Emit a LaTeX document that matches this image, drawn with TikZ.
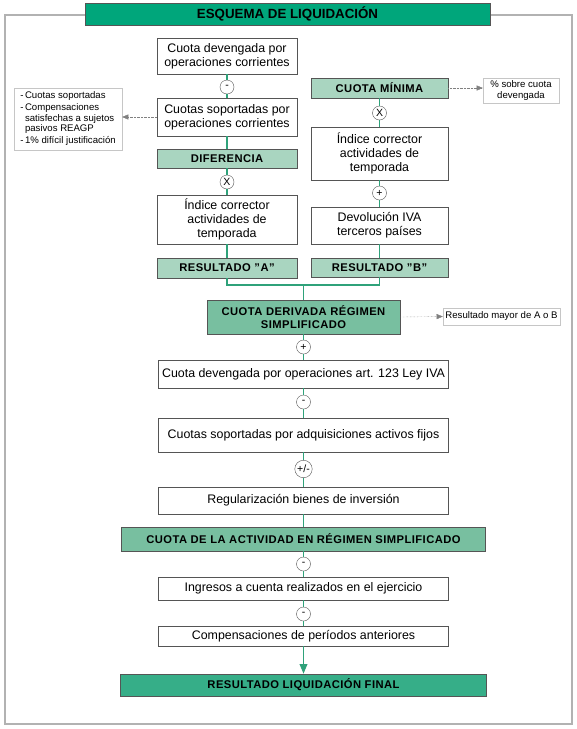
\documentclass[tikz,border=0pt]{standalone}
\usepackage{fontspec}
\setmainfont{Liberation Sans}
\usetikzlibrary{arrows}
\definecolor{verdeosc}{HTML}{00A67B}
\definecolor{verdeclaro}{HTML}{A9D5C0}
\definecolor{verdemed}{HTML}{78BFA0}
\definecolor{verdefin}{HTML}{36AE88}
\definecolor{linea}{HTML}{2FA27A}
\definecolor{borde}{HTML}{555555}
\tikzstyle{caja} = [rectangle, draw=borde, fill=white, line width=0.8pt, align=center, inner sep=1pt, font=\fontsize{12.4}{14}\selectfont]
\tikzstyle{etiqueta} = [rectangle, draw=borde, line width=0.8pt, align=center, inner sep=1pt, font=\bfseries\fontsize{11.2}{12.5}\selectfont\addfontfeatures{LetterSpace=4}]
\tikzstyle{signo} = [circle, draw=borde, fill=white, inner sep=0.5pt, minimum size=14pt, font=\fontsize{10.5}{10.5}\selectfont]
\tikzstyle{nota} = [rectangle, draw=gray!45, fill=white, inner sep=2pt, font=\fontsize{9.6}{10.2}\selectfont]
\tikzstyle{link} = [draw=linea, line width=1.2pt]
\tikzstyle{arrow} = [link, -triangle 45]
\tikzstyle{puntos} = [draw=gray, densely dotted, -triangle 45]

\begin{document}
\begin{tikzpicture}[x=1pt, y=-1pt]
\useasboundingbox (0,0) rectangle (577,729);
\draw [gray!60, line width=1.2pt] (5,15) rectangle (572,724);
\node (titulo) [etiqueta, fill=verdeosc, minimum width=405pt, minimum height=22pt, font=\bfseries\fontsize{13.3}{15}\selectfont] at (287.5,14) {ESQUEMA DE LIQUIDACIÓN};

\node (cdev) [caja, minimum width=140pt, minimum height=36pt] at (227,56) {Cuota devengada por\\operaciones corrientes};
\node (op1) [signo] at (227,87) {-};
\node (csop) [caja, minimum width=140pt, minimum height=38pt] at (227,117) {Cuotas soportadas por\\operaciones corrientes};
\node (dif) [etiqueta, fill=verdeclaro, minimum width=140pt, minimum height=19pt] at (227,158.5) {DIFERENCIA};
\node (op2) [signo] at (227,182) {X};
\node (icA) [caja, minimum width=140pt, minimum height=49pt] at (227,219.5) {Índice corrector\\actividades de\\temporada};
\node (resA) [etiqueta, fill=verdeclaro, minimum width=140pt, minimum height=20pt] at (227,268) {RESULTADO "A"};

\node (cmin) [etiqueta, fill=verdeclaro, minimum width=137pt, minimum height=20pt] at (379.5,88) {CUOTA MÍNIMA};
\node (op3) [signo] at (379.5,113) {X};
\node (icB) [caja, minimum width=137pt, minimum height=53pt] at (379.5,153.5) {Índice corrector\\actividades de\\temporada};
\node (op4) [signo] at (379.5,193) {+};
\node (dev) [caja, minimum width=137pt, minimum height=37pt] at (379.5,225.5) {Devolución IVA\\terceros países};
\node (resB) [etiqueta, fill=verdeclaro, minimum width=137pt, minimum height=19pt] at (379.5,267.5) {RESULTADO "B"};

\node (cuotas) [nota, minimum width=108pt, minimum height=62pt] at (68,119) {\begin{tabular}{@{}l@{\,}l@{}}- & Cuotas soportadas\\[2pt] - & Compensaciones\\ & satisfechas a sujetos\\ & pasivos REAGP\\[2pt] - & 1\% difícil justificación\end{tabular}};
\node (porc) [nota, align=center, minimum width=76pt, minimum height=25pt] at (521,90.5) {\% sobre cuota\\devengada};

\coordinate (junc) at (303.5,285);
\node (cder) [etiqueta, fill=verdemed, minimum width=193pt, minimum height=34pt] at (303.5,317) {CUOTA DERIVADA RÉGIMEN\\SIMPLIFICADO};
\node (mayor) [nota, minimum width=117pt, minimum height=17pt] at (501.5,316.5) {Resultado mayor de A o B};
\node (op5) [signo] at (303.5,347) {+};
\node (art) [caja, minimum width=290pt, minimum height=28pt] at (303.5,374) {Cuota devengada por operaciones art. 123 Ley IVA};
\node (op6) [signo] at (303.5,402) {-};
\node (act) [caja, minimum width=290pt, minimum height=34pt] at (303.5,435) {Cuotas soportadas por adquisiciones activos fijos};
\node (op7) [signo, inner sep=1pt] at (303.5,469) {+/-};
\node (reg) [caja, minimum width=290pt, minimum height=27pt] at (303.5,500.5) {Regularización bienes de inversión};
\node (cact) [etiqueta, fill=verdemed, minimum width=364pt, minimum height=24pt] at (303.5,539) {CUOTA DE LA ACTIVIDAD EN RÉGIMEN SIMPLIFICADO};
\node (op8) [signo] at (303.5,564) {-};
\node (ing) [caja, minimum width=290pt, minimum height=23pt] at (303.5,588.5) {Ingresos a cuenta realizados en el ejercicio};
\node (op9) [signo] at (303.5,614) {-};
\node (comp) [caja, minimum width=290pt, minimum height=20pt] at (303.5,636) {Compensaciones de períodos anteriores};
\node (fin) [etiqueta, fill=verdefin, minimum width=366pt, minimum height=22pt] at (303.5,685) {RESULTADO LIQUIDACIÓN FINAL};

\draw [link] (cdev) -- (op1) -- (csop) -- (dif) -- (op2) -- (icA) -- (resA);
\draw [link] (cmin) -- (op3) -- (icB) -- (op4) -- (dev) -- (resB);
\draw [link] (resA.south) |- (junc) -| (resB.south);
\draw [link] (junc) -- (cder) -- (op5) -- (art) -- (op6) -- (act) -- (op7) -- (reg) -- (cact) -- (op8) -- (ing) -- (op9) -- (comp);
\draw [arrow] (comp) -- (fin);

\draw [puntos] (csop.west) -- (cuotas.east |- csop.west);
\draw [puntos] (cmin.east) -- (porc.west |- cmin.east);
\draw [puntos] (cder.east) -- (mayor.west);
\end{tikzpicture}
\end{document}
